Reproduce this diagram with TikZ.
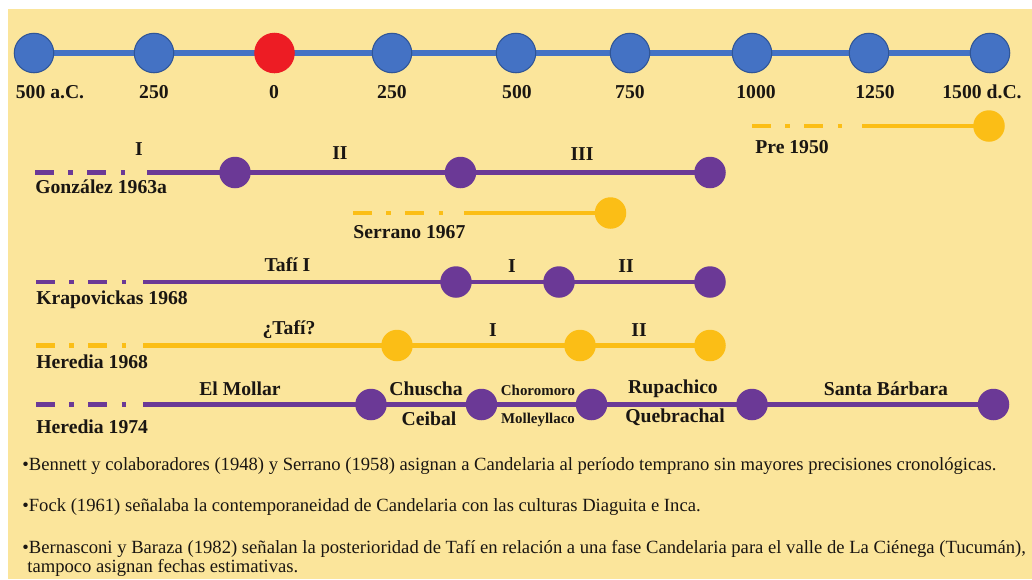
\documentclass[tikz,border=0pt]{standalone}
\usepackage{fontspec}
\setmainfont{Liberation Serif}
\definecolor{fondo}{RGB}{251,229,155}
\definecolor{azul}{RGB}{68,114,196}
\definecolor{azulborde}{RGB}{47,85,151}
\definecolor{rojo}{RGB}{237,28,36}
\definecolor{morado}{RGB}{107,57,150}
\definecolor{oro}{RGB}{251,190,22}
\definecolor{tinta}{RGB}{26,22,18}
\tikzset{
  hito/.style={circle,fill=azul,draw=azulborde,line width=0.6pt,minimum size=0.79cm,inner sep=0pt},
  fase/.style={circle,fill=#1,minimum size=0.63cm,inner sep=0pt},
  eje/.style={line width=3.1pt,color=azul},
  tramo/.style={line width=2.8pt,color=#1},
  incierto/.style={tramo=#1,dash pattern=on 10.8pt off 8.25pt on 2.56pt off 8.25pt},
  etq/.style={font=\fontsize{11.2}{13}\selectfont\bfseries,text=tinta,inner sep=0pt},
  chica/.style={font=\fontsize{8.5}{10}\selectfont\bfseries,text=tinta,inner sep=0pt},
  nota/.style={font=\fontsize{10.6}{12}\selectfont,text=tinta,anchor=west,inner sep=0pt}
}
\begin{document}
\begin{tikzpicture}[x=0.02cm,y=-0.02cm]
\useasboundingbox (0,0) rectangle (1032,579);
\fill[white] (0,0) rectangle (1032,579);
\fill[fondo] (8,9) rectangle (1032,579);
% eje de tiempo
\foreach \x [count=\i] in {34,154,274.5,392,516,630,752,869,990}
  \coordinate (t\i) at (\x,53);
\draw[eje] (t1)--(t9);
\foreach \i in {1,2,4,5,6,7,8,9}
  \node[hito] (h\i) at (t\i) {};
\node[hito,fill=rojo,draw=rojo] (h3) at (t3) {};
\node[etq] (a1) at (50,92) {500 a.C.};
\node[etq] (a2) at (154,92) {250};
\node[etq] (a3) at (274,92) {0};
\node[etq] (a4) at (392,92) {250};
\node[etq] (a5) at (517,92) {500};
\node[etq] (a6) at (630,92) {750};
\node[etq] (a7) at (756,92) {1000};
\node[etq] (a8) at (875,92) {1250};
\node[etq] (a9) at (982,92) {1500 d.C.};
% Pre 1950
\coordinate (p0) at (752,126);
\coordinate (p1) at (843,126);
\coordinate (p2) at (862,126);
\coordinate (p3) at (989,126);
\draw[incierto=oro] (p0)--(p1);
\draw[tramo=oro] (p2)--(p3);
\node[fase=oro] (pa) at (p3) {};
\node[etq,anchor=west] (pre) at (755,147) {Pre 1950};
% Gonzalez 1963a
\coordinate (g0) at (35,172.5);
\coordinate (g1) at (126,172.5);
\coordinate (g2) at (147,172.5);
\coordinate (g3) at (235,172.5);
\coordinate (g4) at (460.5,172.5);
\coordinate (g5) at (710,172.5);
\draw[incierto=morado] (g0)--(g1);
\draw[tramo=morado] (g2)--(g5);
\node[fase=morado] (ga) at (g3) {};
\node[fase=morado] (gb) at (g4) {};
\node[fase=morado] (gc) at (g5) {};
\node[etq] (gI) at (139,149) {I};
\node[etq] (gII) at (340,153) {II};
\node[etq] (gIII) at (582,154) {III};
\node[etq,anchor=west] (gon) at (35,187) {González 1963a};
% Serrano 1967
\coordinate (s0) at (353,213);
\coordinate (s1) at (444,213);
\coordinate (s2) at (464,213);
\coordinate (s3) at (610.5,213);
\draw[incierto=oro] (s0)--(s1);
\draw[tramo=oro] (s2)--(s3);
\node[fase=oro] (sa) at (s3) {};
\node[etq,anchor=west] (ser) at (353,232) {Serrano 1967};
% Krapovickas 1968
\coordinate (k0) at (36,282);
\coordinate (k1) at (127,282);
\coordinate (k2) at (143,282);
\coordinate (k3) at (456,282);
\coordinate (k4) at (559,282);
\coordinate (k5) at (710,282);
\draw[incierto=morado] (k0)--(k1);
\draw[tramo=morado] (k2)--(k5);
\node[fase=morado] (ka) at (k3) {};
\node[fase=morado] (kb) at (k4) {};
\node[fase=morado] (kc) at (k5) {};
\node[etq] (kT) at (287.5,265) {Tafí I};
\node[etq] (kI) at (512,266) {I};
\node[etq] (kII) at (626,266) {II};
\node[etq,anchor=west] (kra) at (36,300) {Krapovickas 1968};
% Heredia 1968
\coordinate (r0) at (36,345.5);
\coordinate (r1) at (127,345.5);
\coordinate (r2) at (143,345.5);
\coordinate (r3) at (397,345.5);
\coordinate (r4) at (580,345.5);
\coordinate (r5) at (710,345.5);
\draw[incierto=oro] (r0)--(r1);
\draw[tramo=oro] (r2)--(r5);
\node[fase=oro] (ra) at (r3) {};
\node[fase=oro] (rb) at (r4) {};
\node[fase=oro] (rc) at (r5) {};
\node[etq] (rT) at (289,330) {¿Tafí?};
\node[etq] (rI) at (493,330) {I};
\node[etq] (rII) at (639,330) {II};
\node[etq,anchor=west] (her) at (36,362) {Heredia 1968};
% Heredia 1974
\coordinate (e0) at (36,404.5);
\coordinate (e1) at (127,404.5);
\coordinate (e2) at (143,404.5);
\coordinate (e3) at (371,404.5);
\coordinate (e4) at (481.5,404.5);
\coordinate (e5) at (591.5,404.5);
\coordinate (e6) at (752,404.5);
\coordinate (e7) at (993.5,404.5);
\draw[incierto=morado] (e0)--(e1);
\draw[tramo=morado] (e2)--(e7);
\foreach \i/\n in {3/ea,4/eb,5/ec,6/ed,7/ee}
  \node[fase=morado] (\n) at (e\i) {};
\node[etq] (eM) at (240,389) {El Mollar};
\node[etq] (eCh) at (426,389) {Chuscha};
\node[etq] (eCe) at (429,419) {Ceibal};
\node[chica] (eCo) at (538,390) {Choromoro};
\node[chica] (eMo) at (538,420) {Molleyllaco};
\node[etq] (eR) at (673,389) {Rupachico};
\node[etq] (eQ) at (675,417) {Quebrachal};
\node[etq] (eS) at (886,389) {Santa Bárbara};
\node[etq,anchor=west] (her2) at (36,427) {Heredia 1974};
% notas
\node[nota] (n1) at (22,466) {\textbullet Bennett y colaboradores (1948) y Serrano (1958) asignan a Candelaria al período temprano sin mayores precisiones cronológicas.};
\node[nota] (n2) at (22,507) {\textbullet Fock (1961) señalaba la contemporaneidad de Candelaria con las culturas Diaguita e Inca.};
\node[nota] (n3) at (22,549) {\textbullet Bernasconi y Baraza (1982) señalan la posterioridad de Tafí en relación a una fase Candelaria para el valle de La Ciénega (Tucumán),};
\node[nota] (n4) at (27,568) {tampoco asignan fechas estimativas.};
\end{tikzpicture}
\end{document}
